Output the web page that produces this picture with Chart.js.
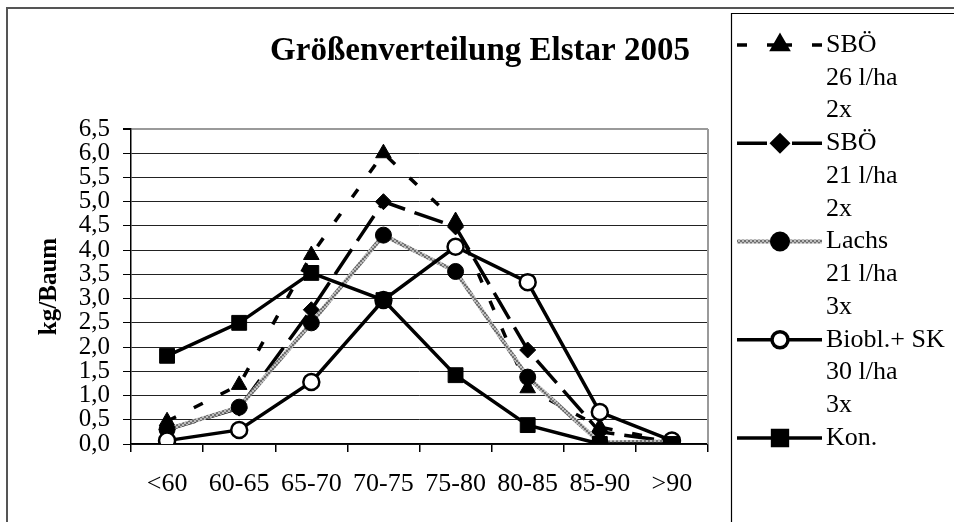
<!DOCTYPE html>
<html><head><meta charset="utf-8">
<script src="https://cdn.jsdelivr.net/npm/chart.js@4"></script>
<style>html,body{margin:0;padding:0;background:#fff}#wrap{width:954px;height:522px;position:relative}</style>
</head><body><div id="wrap"><canvas id="c" width="954" height="522"></canvas></div>
<script>
const categories = ['<60','60-65','65-70','70-75','75-80','80-85','85-90','>90'];
const sboe26 = [0.47,1.22,3.9,6.0,4.6,1.15,0.35,0.05];
const sboe21 = [0.3,0.74,2.77,5.0,4.48,1.94,0.25,0.05];
const lachs  = [0.3,0.76,2.5,4.31,3.56,1.38,0.03,0.05];
const biobl  = [0.07,0.29,1.28,2.97,4.07,3.34,0.66,0.07];
const kon    = [1.82,2.5,3.53,2.97,1.42,0.39,0.0,0.0];
const seriesLabels = [['SBÖ','26 l/ha','2x'],['SBÖ','21 l/ha','2x'],['Lachs','21 l/ha','3x'],['Biobl.+ SK','30 l/ha','3x'],['Kon.']];
const titleText = 'Größenverteilung Elstar 2005';
const yTitle = 'kg/Baum';
const yMin = 0, yMax = 6.5, yStep = 0.5;

const FONT = "'Liberation Serif','Times New Roman',serif";
Chart.defaults.font.family = FONT;
Chart.defaults.color = '#000';

const canvas = document.getElementById('c');
const ctx0 = canvas.getContext('2d');
function grayPattern(){
  const c = document.createElement('canvas'); c.width = 4; c.height = 4;
  const g = c.getContext('2d');
  g.fillStyle = '#bdbdbd'; g.fillRect(0,0,4,4);
  g.fillStyle = '#707070'; g.fillRect(0,0,2,2); g.fillRect(2,2,2,2);
  return ctx0.createPattern(c,'repeat');
}
const lachsColor = grayPattern();

function ds(label, data, opts){
  return Object.assign({
    label: label.join(' '), data, fill:false, tension:0,
    borderColor:'#000', backgroundColor:'#000', borderWidth:3.5,
    borderCapStyle:'butt', borderJoinStyle:'miter',
    pointBackgroundColor:'#000', pointBorderColor:'#000', pointBorderWidth:1,
    pointRadius:8, pointHoverRadius:8
  }, opts);
}
const datasets = [
  ds(seriesLabels[0], sboe26, {borderDash:[10,20], pointStyle:'triangle', pointRadius:9, order:5}),
  ds(seriesLabels[1], sboe21, {borderDash:[30,10], pointStyle:'rectRot', pointRadius:8, order:4}),
  ds(seriesLabels[2], lachs, {borderColor:lachsColor, borderWidth:4, pointStyle:'circle', pointRadius:8, order:3}),
  ds(seriesLabels[3], biobl, {pointStyle:'circle', pointRadius:8, pointBackgroundColor:'#fff', pointBorderWidth:2.5, order:2}),
  ds(seriesLabels[4], kon, {pointStyle:'rect', pointRadius:10.5, order:1})
];

const framePlugin = {
  id:'frame',
  beforeDraw(chart){
    const c = chart.ctx;
    c.save(); c.fillStyle='#fff'; c.fillRect(0,0,chart.width,chart.height); c.restore();
  },
  beforeDatasetsDraw(chart){
    const c = chart.ctx, a = chart.chartArea;
    c.save();
    c.strokeStyle='#9a9a9a'; c.lineWidth=2;
    c.beginPath(); c.moveTo(a.right, a.top); c.lineTo(a.right, a.bottom); c.stroke();
    c.restore();
  },
  afterDraw(chart){
    const c = chart.ctx;
    c.save();
    c.strokeStyle='#555'; c.lineWidth=2;
    c.beginPath(); c.moveTo(7, 530); c.lineTo(7, 8); c.lineTo(960, 8); c.stroke();
    c.strokeStyle='#000'; c.lineWidth=1.2;
    c.beginPath(); c.moveTo(731.5, 530); c.lineTo(731.5, 13.5); c.lineTo(960, 13.5); c.stroke();
    c.fillStyle='#000';
    c.font = 'bold 33px ' + FONT;
    c.textAlign='center'; c.textBaseline='alphabetic';
    c.fillText(titleText, 480, 60);
    c.font = '26px ' + FONT;
    c.textAlign='left'; c.textBaseline='middle';
    let line = 0;
    const lh = 32.75, y0 = 45, xs = 737, xe = 822, xm = 780;
    chart.data.datasets.forEach((d, i) => {
      const y = y0 + lh*line;
      c.save();
      c.strokeStyle = d.borderColor; c.lineWidth = d.borderWidth; c.lineCap='butt';
      c.setLineDash(d.borderDash || []);
      c.beginPath(); c.moveTo(xs, y); c.lineTo(xm, y); c.stroke();
      c.beginPath(); c.moveTo(xe, y); c.lineTo(xm, y); c.stroke();
      c.setLineDash([]);
      c.fillStyle = d.pointBackgroundColor; c.strokeStyle = d.pointBorderColor;
      Chart.helpers.drawPoint(c, {pointStyle:d.pointStyle, rotation:0, radius:d.pointRadius, borderWidth:d.pointBorderWidth}, xm, y);
      c.restore();
      seriesLabels[i].forEach(t => {
        c.fillText(t, 826, y0 + lh*line);
        line++;
      });
    });
    c.restore();
  }
};

new Chart(canvas, {
  type:'line',
  data:{labels:categories, datasets},
  options:{
    responsive:false, animation:false,
    layout:{padding:{left:35, top:129, right:246, bottom:18}},
    plugins:{legend:{display:false}, title:{display:false}, tooltip:{enabled:false}},
    scales:{
      x:{
        type:'category', offset:true,
        grid:{drawOnChartArea:false, drawTicks:true, tickLength:8, offset:true, color:'#000', lineWidth:1.5},
        border:{color:'#000', width:1.5},
        ticks:{font:{size:26}, padding:17, maxRotation:0, autoSkip:false, color:'#000'},
        afterFit(s){ s.height = 60; }
      },
      y:{
        min:yMin, max:yMax,
        ticks:{stepSize:yStep, autoSkip:false, font:{size:25}, padding:13, color:'#000',
          callback:v => Number(v).toFixed(1).replace('.', ',')},
        grid:{color:c => (c.tick && c.tick.value === yMax) ? '#9a9a9a' : '#222',
              lineWidth:c => (c.tick && c.tick.value === yMax) ? 2 : 1,
              tickColor:'#000', tickLength:8, drawTicks:true},
        border:{color:'#000', width:1.5},
        title:{display:true, text:yTitle, font:{size:25, weight:'bold'}, padding:0, color:'#000'},
        afterFit(s){ s.width = 96; }
      }
    }
  },
  plugins:[framePlugin]
});
</script></body></html>
